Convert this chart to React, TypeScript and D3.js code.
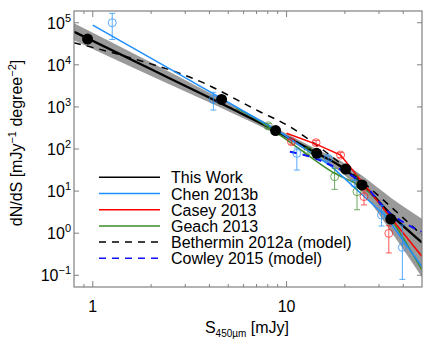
import React from 'react';
import * as d3 from 'd3';

// This Work: binned counts, fitted curve and its confidence band
const thisWorkS = [0.94, 4.62, 8.78, 14.3, 20.2, 24.5, 34.5];
const thisWorkN = [4.1e4, 1510, 275, 79, 33.5, 14, 2.17];
const fitS = [0.8, 2, 3.75, 5, 8.8, 14.3, 18.8, 24.8, 34.5, 50];
const fitN = [6.1e4, 7830, 1920, 995, 269, 80, 40, 14.1, 2.8, 0.6];
const fitHi = [9.7e4, 1.13e4, 2530, 1250, 316, 99, 54, 22.4, 7.0, 2.2];
const fitLo = [3.85e4, 5420, 1455, 790, 229, 65, 29.5, 8.9, 1.11, 0.09];

// Chen 2013b
const chenLineS = [1.0, 2.83, 9.2, 17.1, 32.7, 50];
const chenLineN = [8.8e4, 5750, 257, 38, 2.45, 0.16];
const chenS = [1.26, 4.19, 11.3, 16.4, 22.5, 30.9, 39.6];
const chenN = [1.0e5, 1510, 79, 60, 15.3, 2.7, 0.46];
const chenHi = [1.67e5, 2220, 105, 68, 18, 4.6, 1.57];
const chenLo = [4.0e4, 843, 31.6, 52, 12.8, 1.48, 0.08];

// Casey 2013
const caseyLineS = [10.0, 14.2, 19.0, 50];
const caseyLineN = [236, 131, 72, 0.28];
const caseyS = [10.6, 14.2, 19.0, 25.1, 33.7];
const caseyN = [149, 141, 72, 7.4, 0.99];
const caseyHi = [170, 160, 82, 10.6, 1.5];
const caseyLo = [130, 125, 63, 4.7, 0.34];

// Geach 2013
const geachLineS = [5.52, 6.87, 9.25, 17.1, 26.9, 50];
const geachLineN = [927, 537, 215, 28.9, 9.0, 0.134];
const geachS = [8.04, 12.9, 17.7, 23.1];
const geachN = [352, 91, 22, 9.7];
const geachHi = [400, 105, 35, 24];
const geachLo = [310, 80, 11, 3.6];

// models
const bethS = [0.8, 1.65, 3.45, 7.28, 10.4, 13.5, 50];
const bethN = [3.35e4, 1.37e4, 4350, 769, 339, 149, 0.9];
const cowleyS = [10.4, 13.2, 16.1, 25.8, 32.7, 38.4, 50];
const cowleyN = [86, 66, 45.7, 12.7, 3.56, 2.06, 1.07];

// ticks
const xMajor = [1, 10];
const xMinor = [0.9, 2, 3, 4, 5, 6, 7, 8, 9, 20, 30, 40];
const yExps = [-1, 0, 1, 2, 3, 4, 5];

const legendItems = [
  { label: 'This Work', color: '#000', dash: null },
  { label: 'Chen 2013b', color: '#1f8fff', dash: null },
  { label: 'Casey 2013', color: '#ff0000', dash: null },
  { label: 'Geach 2013', color: '#3d8c2a', dash: null },
  { label: 'Bethermin 2012a (model)', color: '#000', dash: '7,6' },
  { label: 'Cowley 2015 (model)', color: '#1010ff', dash: '7,6' },
];

const W = 436, H = 339;
const left = 74, right = 422, top = 11, bottom = 287;
const font = 'Liberation Sans, Arial, Helvetica, sans-serif';
const axisColor = '#808080';

const zip = (a: number[], b: number[]) => a.map((v, i) => [v, b[i]] as [number, number]);

export default function App() {
  const x = d3.scaleLog().domain([0.8, 50]).range([left, right]);
  const y = d3.scaleLog().domain([0.0527, 1.9e5]).range([bottom, top]);

  const smooth = d3.line<[number, number]>()
    .x(d => x(d[0]))
    .y(d => y(d[1]))
    .curve(d3.curveMonotoneX);
  const straight = d3.line<[number, number]>()
    .x(d => x(d[0]))
    .y(d => y(d[1]));
  const band = d3.area<number>()
    .x((d, i) => x(fitS[i]))
    .y0((d, i) => y(fitLo[i]))
    .y1((d, i) => y(fitHi[i]))
    .curve(d3.curveMonotoneX);

  const errPoints = (s: number[], n: number[], hi: number[], lo: number[], color: string) => (
    <g stroke={color} fill="none" strokeWidth={1} opacity={0.75}>
      {s.map((v, i) => (
        <g key={i}>
          <line x1={x(v)} x2={x(v)} y1={y(hi[i])} y2={y(lo[i])} />
          <line x1={x(v) - 3} x2={x(v) + 3} y1={y(hi[i])} y2={y(hi[i])} />
          <line x1={x(v) - 3} x2={x(v) + 3} y1={y(lo[i])} y2={y(lo[i])} />
          <circle cx={x(v)} cy={y(n[i])} r={4} fill="none" />
        </g>
      ))}
    </g>
  );

  return (
    <svg width={W} height={H} style={{ position: 'absolute', left: 0, top: 0, fontFamily: font }}>
      <rect width={W} height={H} fill="#fff" />
      <defs>
        <clipPath id="plot">
          <rect x={left} y={top} width={right - left} height={bottom - top} />
        </clipPath>
      </defs>

      <g clipPath="url(#plot)">
        <path d={band(fitS) || ''} fill="#9a9a9a" />
        <path d={smooth(zip(bethS, bethN)) || ''} fill="none" stroke="#000" strokeWidth={1.5} strokeDasharray="7,6" />
        <path d={smooth(zip(fitS, fitN)) || ''} fill="none" stroke="#000" strokeWidth={2.3} />
        <path d={smooth(zip(geachLineS, geachLineN)) || ''} fill="none" stroke="#3d8c2a" strokeWidth={1.5} />
        <path d={straight(zip(chenLineS, chenLineN)) || ''} fill="none" stroke="#1f8fff" strokeWidth={1.5} />
        <path d={straight(zip(caseyLineS, caseyLineN)) || ''} fill="none" stroke="#ff0000" strokeWidth={1.5} />
        <path d={smooth(zip(cowleyS, cowleyN)) || ''} fill="none" stroke="#1010ff" strokeWidth={2} strokeDasharray="7,6" />
        {errPoints(chenS, chenN, chenHi, chenLo, '#1f8fff')}
        {errPoints(caseyS, caseyN, caseyHi, caseyLo, '#ff2020')}
        {errPoints(geachS, geachN, geachHi, geachLo, '#3d8c2a')}
        {thisWorkS.map((s, i) => (
          <circle key={i} cx={x(s)} cy={y(thisWorkN[i])} r={5.5} fill="#000" />
        ))}
      </g>

      {/* frame and ticks */}
      <rect x={left} y={top} width={right - left} height={bottom - top} fill="none" stroke={axisColor} strokeWidth={1.2} />
      <g stroke={axisColor} strokeWidth={1}>
        {xMajor.map(t => (
          <g key={'xM' + t}>
            <line x1={x(t)} x2={x(t)} y1={bottom} y2={bottom - 6} />
            <line x1={x(t)} x2={x(t)} y1={top} y2={top + 6} />
          </g>
        ))}
        {xMinor.map(t => (
          <g key={'xm' + t}>
            <line x1={x(t)} x2={x(t)} y1={bottom} y2={bottom - 3} />
            <line x1={x(t)} x2={x(t)} y1={top} y2={top + 3} />
          </g>
        ))}
        {yExps.map(e => (
          <g key={'y' + e}>
            <line x1={left} x2={left + 5} y1={y(10 ** e)} y2={y(10 ** e)} />
            <line x1={right} x2={right - 5} y1={y(10 ** e)} y2={y(10 ** e)} />
          </g>
        ))}
      </g>

      {/* tick labels */}
      <g fontSize={16} fill="#000">
        {xMajor.map(t => (
          <text key={t} x={x(t)} y={312} textAnchor="middle">{t}</text>
        ))}
        {yExps.map(e => (
          <text key={e} x={71} y={y(10 ** e) + 6} textAnchor="end">
            10<tspan dy={-7} fontSize={11}>{e < 0 ? '\u2212' + Math.abs(e) : e}</tspan>
          </text>
        ))}
      </g>

      {/* axis titles */}
      <text x={247} y={333} textAnchor="middle" fontSize={16}>
        S<tspan fontSize={10} dy={4}>450µm</tspan><tspan dy={-4}> [mJy]</tspan>
      </text>
      <text transform="translate(22,143) rotate(-90)" textAnchor="middle" fontSize={16}>
        dN/dS [mJy<tspan fontSize={11} dy={-6}>{'\u22121'}</tspan><tspan dy={6}> degree</tspan><tspan fontSize={11} dy={-6}>{'\u22122'}</tspan><tspan dy={6}>]</tspan>
      </text>

      {/* legend */}
      <g>
        {legendItems.map((d, i) => {
          const ly = 177.3 + i * 16.2;
          return (
            <g key={d.label}>
              <line x1={99} x2={160} y1={ly} y2={ly} stroke={d.color} strokeWidth={1.5}
                strokeDasharray={d.dash || undefined} />
              <text x={171} y={ly + 6} fontSize={16}>{d.label}</text>
            </g>
          );
        })}
      </g>
    </svg>
  );
}
